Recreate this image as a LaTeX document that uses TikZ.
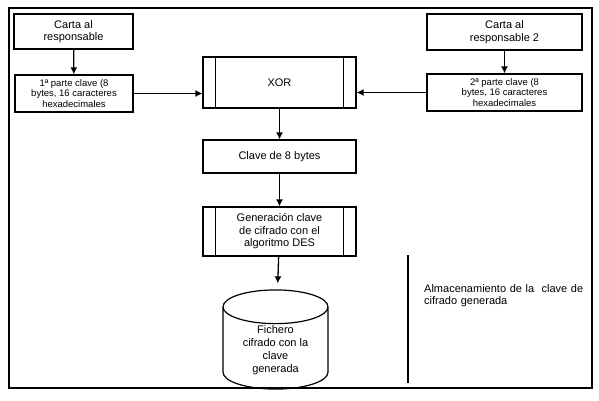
\documentclass[tikz,border=0pt]{standalone}
\usepackage{fontspec}
\setmainfont{Liberation Sans}
\usetikzlibrary{arrows.meta,shapes.geometric}
\tikzset{
  box/.style={draw,line width=1.2pt,align=center,inner sep=1pt,font=\fontsize{11}{12.5}\selectfont},
  smallbox/.style={box,font=\fontsize{9.5}{10.5}\selectfont},
  arr/.style={line width=1.3pt,-{Latex[length=7pt,width=7pt]}}
}
\begin{document}
\begin{tikzpicture}[x=1pt,y=-1pt]
\useasboundingbox (0,0) rectangle (599,401);
\draw[line width=1.3pt] (9,8) rectangle (592,388);
\node[box,minimum width=119pt,minimum height=35pt] (carta1) at (73.5,31.5) {Carta al\\responsable};
\node[smallbox,minimum width=118pt,minimum height=37pt] (parte1) at (74,93.5) {1ª parte clave (8\\bytes, 16 caracteres\\hexadecimales};
\node[box,minimum width=155pt,minimum height=36pt] (carta2) at (504.5,32) {Carta al\\responsable 2};
\node[smallbox,minimum width=155pt,minimum height=37pt] (parte2) at (504.5,92.5) {2ª parte clave (8\\bytes, 16 caracteres\\hexadecimales};
\node[box,minimum width=153pt,minimum height=51pt] (xor) at (279.5,82.5) {XOR};
\node[box,minimum width=153pt,minimum height=33pt] (clave) at (279.5,156.5) {Clave de 8 bytes};
\node[box,minimum width=153pt,minimum height=49pt] (gen) at (279.5,231.5) {Generación clave\\de cifrado con el\\algoritmo DES};
\node[box,cylinder,shape border rotate=90,aspect=0.5,minimum width=105pt,minimum height=95pt,anchor=shape center,font=\fontsize{11}{13}\selectfont] (fich) at (275.5,339.5) {Fichero\\cifrado con la\\clave\\generada};
\foreach \n in {xor,gen}
 {\draw[line width=1.2pt] ([xshift=13pt]\n.north west) -- ([xshift=13pt]\n.south west);
  \draw[line width=1.2pt] ([xshift=-13pt]\n.north east) -- ([xshift=-13pt]\n.south east);}
\draw[arr] (carta1) -- (parte1);
\draw[arr] (carta2) -- (parte2);
\draw[arr] (parte1.east) -- (parte1.east -| xor.west);
\draw[arr] (parte2.west) -- (parte2.west -| xor.east);
\draw[arr] (xor) -- (clave);
\draw[arr] (clave) -- (gen);
\draw[arr,shorten >=6pt] (gen) -- (fich);
\draw[line width=1.3pt] (408,255) -- (408,383);
\node[anchor=north west,align=left,text width=175pt,inner sep=0pt,font=\fontsize{11}{12.5}\selectfont] (almac) at (424,284) {Almacenamiento de la\ \ clave de\\cifrado generada};
\end{tikzpicture}
\end{document}
